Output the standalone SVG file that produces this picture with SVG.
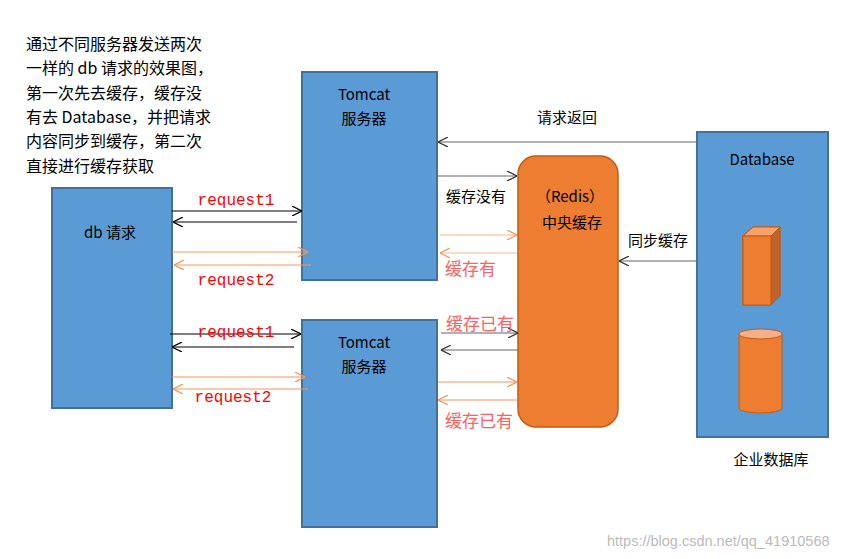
<svg xmlns="http://www.w3.org/2000/svg" width="862" height="559" viewBox="0 0 862 559">
<style>
text{font-family:"Microsoft YaHei","Noto Sans CJK SC",sans-serif;font-size:15px;fill:#000}
.c{text-anchor:middle}
.r{fill:#ff0000;font-family:"Liberation Mono","Noto Sans CJK SC",monospace;font-size:16px}
.rl{fill:#ff6060;font-size:17px}
.box{fill:#5b9bd5;stroke:#41719c;stroke-width:2}
.k{stroke:#000;stroke-width:1.2;fill:none}
.o{stroke:#f4955a;stroke-width:1.2;fill:none}
.ol{stroke:#f8b88c;stroke-width:1.2;fill:none}
.g{stroke:#666;stroke-width:1.2;fill:none}
.i{font-size:16px}
</style>
<defs>
<marker id="ak" viewBox="0 0 10 10" refX="10" refY="5" markerWidth="10" markerHeight="10" markerUnits="userSpaceOnUse" orient="auto"><path d="M0,0L10,5L0,10" fill="none" stroke="#000" stroke-width="1.2"/></marker>
<marker id="ao" viewBox="0 0 10 10" refX="10" refY="5" markerWidth="10" markerHeight="10" markerUnits="userSpaceOnUse" orient="auto"><path d="M0,0L10,5L0,10" fill="none" stroke="#f4955a" stroke-width="1.2"/></marker>
<marker id="ag" viewBox="0 0 10 10" refX="10" refY="5" markerWidth="10" markerHeight="10" markerUnits="userSpaceOnUse" orient="auto"><path d="M0,0L10,5L0,10" fill="none" stroke="#333" stroke-width="1.2"/></marker>
</defs>
<rect width="862" height="559" fill="#fff"/>
<g id="intro">
<text class="i" x="26" y="50">通过不同服务器发送两次</text>
<text class="i" x="26" y="74">一样的 db 请求的效果图，</text>
<text class="i" x="26" y="99">第一次先去缓存，缓存没</text>
<text class="i" x="26" y="123">有去 Database，并把请求</text>
<text class="i" x="26" y="147">内容同步到缓存，第二次</text>
<text class="i" x="26" y="172">直接进行缓存获取</text>
</g>
<g id="db-request"><rect class="box" x="52" y="188" width="120" height="220"/><text class="c" x="110" y="238">db 请求</text></g>
<g id="tomcat1"><rect class="box" x="302" y="72" width="135" height="208"/><text class="c" x="364" y="100">Tomcat</text><text class="c" x="364" y="124">服务器</text></g>
<g id="tomcat2"><rect class="box" x="302" y="320" width="135" height="207"/><text class="c" x="364" y="348">Tomcat</text><text class="c" x="364" y="372">服务器</text></g>
<g id="redis"><rect x="518" y="156" width="100" height="271" rx="18" fill="#ed7d31" stroke="#c55a11" stroke-width="1.5"/><text class="c" x="570" y="202">（Redis）</text><text class="c" x="572" y="228">中央缓存</text></g>
<g id="database"><rect class="box" x="697" y="132" width="131" height="305"/><text class="c" x="762" y="165">Database</text>
<path d="M743,236L753,227L780,227L780,296L771,305L743,305Z" fill="#ed7d31" stroke="#c55a11"/>
<path d="M743,236L753,227L780,227L771,236Z" fill="#f4a36a" stroke="#c55a11"/>
<path d="M771,236L780,227L780,296L771,305Z" fill="#c0622a" stroke="#c55a11"/>
<rect x="743" y="236" width="28" height="69" fill="#ed7d31" stroke="#c55a11"/>
<path d="M739,334L739,408A21.5,5 0 0 0 782,408L782,334" fill="#ed7d31" stroke="#c55a11"/>
<ellipse cx="760.5" cy="334" rx="21.5" ry="5" fill="#f6b088" stroke="#c55a11"/>
<text class="c" x="771" y="465">企业数据库</text></g>
<g id="connectors">
<path class="k" d="M172,211H302" marker-end="url(#ak)"/>
<path class="k" d="M297,222H173" marker-end="url(#ak)"/>
<path class="o" d="M172,252H308" marker-end="url(#ao)"/>
<path class="o" d="M311,265H174" marker-end="url(#ao)"/>
<path class="k" d="M170,334H301" marker-end="url(#ak)"/>
<path class="k" d="M294,347H172" marker-end="url(#ak)"/>
<path class="o" d="M172,377H305" marker-end="url(#ao)"/>
<path class="o" d="M308,389H173" marker-end="url(#ao)"/>
<path class="g" d="M437,176H517" marker-end="url(#ag)"/>
<path class="ol" d="M440,235H517" marker-end="url(#ao)"/>
<path class="ol" d="M517,253H440" marker-end="url(#ao)"/>
<path class="g" d="M441,333H518" marker-end="url(#ag)"/>
<path class="g" d="M518,350H441" marker-end="url(#ag)"/>
<path class="o" d="M438,382H517" marker-end="url(#ao)"/>
<path class="o" d="M517,400H438" marker-end="url(#ao)"/>
<path class="g" d="M697,142H438" marker-end="url(#ag)"/>
<path class="g" d="M697,261H619" marker-end="url(#ag)"/>
</g>
<g id="labels">
<text class="r c" x="236" y="205">request1</text>
<text class="r c" x="236" y="285">request2</text>
<text class="r c" x="236" y="337">request1</text>
<text class="r c" x="233" y="402">request2</text>
<text x="446" y="202">缓存没有</text>
<text class="rl" x="445" y="275">缓存有</text>
<text class="rl" x="446" y="330">缓存已有</text>
<text class="rl" x="445" y="427">缓存已有</text>
<text class="c" x="567" y="123">请求返回</text>
<text x="628" y="246">同步缓存</text>
</g>
<text x="607" y="546" style="font-family:'Liberation Sans',sans-serif;font-size:14.5px;fill:#bbb">https://blog.csdn.net/qq_41910568</text>
</svg>
